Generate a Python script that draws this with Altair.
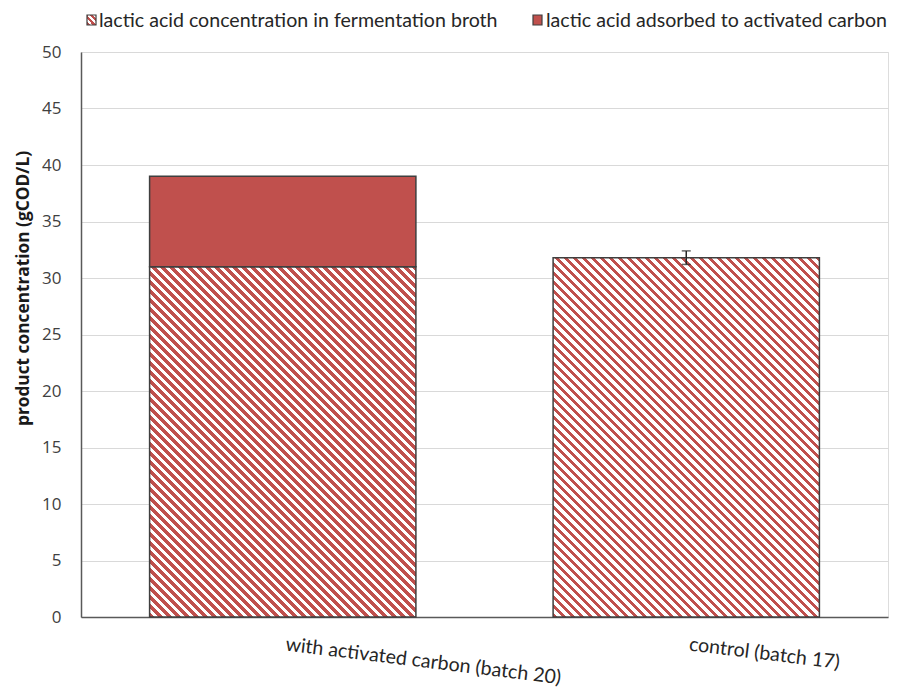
import altair as alt
import pandas as pd

# ---- data ----
categories = ["with activated carbon (batch 20)", "control (batch 17)"]
broth = [31.0, 31.8]          # lactic acid in fermentation broth (gCOD/L)
adsorbed = [8.0, 0.0]         # lactic acid adsorbed to activated carbon (gCOD/L)
broth_err = [None, 0.6]       # standard deviation of broth concentration
legend_labels = ["lactic acid concentration in fermentation broth",
                 "lactic acid adsorbed to activated carbon"]

df = pd.DataFrame({
    "cat": categories,
    "broth": broth,
    "adsorbed": adsorbed,
    "err": broth_err,
})
df["total"] = df["broth"] + df["adsorbed"]
df["lo"] = df["broth"] - df["err"]
df["hi"] = df["broth"] + df["err"]

# ---- layout ----
W, H = 807, 565
Y_MAX = 50
PAD_INNER, PAD_OUTER = 0.34, 0.17
RED = "#c0504d"
EDGE = "#3f3f3f"
FONT_NUM = "Open Sans"
FONT_TXT = "Lato"
TXT_SIZE = 19.6

step = W / (len(categories) - PAD_INNER + 2 * PAD_OUTER)
band = step * (1 - PAD_INNER)


def stripes(w, h, period=9.0, red_frac=0.52):
    """Linear gradient giving 45-degree diagonal hatching over a w x h box."""
    a = w / h
    s = (a + 1) / (a * a + 1)
    n = (w + h) / period
    stops = []
    k = 0
    while k < n:
        o0 = k / n
        o1 = min((k + red_frac) / n, 1.0)
        o2 = min((k + 1) / n, 1.0)
        stops += [alt.GradientStop(offset=o0, color=RED),
                  alt.GradientStop(offset=o1, color=RED),
                  alt.GradientStop(offset=o1, color="white"),
                  alt.GradientStop(offset=o2, color="white")]
        k += 1
    return alt.LinearGradient(gradient="linear", stops=stops,
                              x1=0, y1=1, x2=s * a, y2=1 - s)


x_enc = alt.X("cat:N", sort=categories,
              scale=alt.Scale(paddingInner=PAD_INNER, paddingOuter=PAD_OUTER),
              axis=alt.Axis(title=None, labelAngle=7, labelAlign="left",
                            labelBaseline="top", labelPadding=18, labelOffset=4,
                            labelFont=FONT_TXT, labelFontSize=TXT_SIZE,
                            labelColor="#262626", ticks=False,
                            domainColor="#595959", domainWidth=1.5,
                            labelLimit=400))
y_scale = alt.Scale(domain=[0, Y_MAX], nice=False)
y_axis = alt.Axis(title="product concentration (gCOD/L)",
                  values=list(range(0, 51, 5)), grid=True,
                  gridColor="#d9d9d9", gridWidth=1, ticks=False,
                  labelFont=FONT_NUM, labelFontSize=17, labelColor="#404040",
                  labelPadding=20, domainColor="#595959", domainWidth=1.5,
                  titleFont=FONT_NUM, titleFontSize=17.3, titleFontWeight="bold",
                  titleColor="#1a1a1a", titleAngle=270, titleAlign="center",
                  titleBaseline="middle", titleX=-58, titleY=236)

base = alt.Chart(df)

hatched_layers = []
for cat, val in zip(categories, broth):
    grad = stripes(band, val / Y_MAX * H)
    hatched_layers.append(
        base.transform_filter(alt.datum.cat == cat)
        .mark_bar(fill=grad, stroke=EDGE, strokeWidth=1.5)
        .encode(x=x_enc,
                y=alt.Y("broth:Q", scale=y_scale, axis=y_axis),
                y2=alt.Y2(datum=0))
    )

adsorbed_bar = (
    base.transform_filter(alt.datum.adsorbed > 0)
    .mark_bar(fill=RED, stroke=EDGE, strokeWidth=1.5)
    .encode(x=x_enc, y=alt.Y("broth:Q", scale=y_scale, axis=y_axis),
            y2="total:Q")
)

err_rule = (
    base.transform_filter("isValid(datum.err)")
    .mark_rule(color="#262626", strokeWidth=1.5)
    .encode(x=x_enc, y=alt.Y("lo:Q", scale=y_scale, axis=y_axis), y2="hi:Q")
)
err_lo = (
    base.transform_filter("isValid(datum.err)")
    .mark_tick(color="#262626", thickness=1.5, size=9, orient="horizontal")
    .encode(x=x_enc, y=alt.Y("lo:Q", scale=y_scale, axis=y_axis))
)
err_hi = (
    base.transform_filter("isValid(datum.err)")
    .mark_tick(color="#262626", thickness=1.5, size=9, orient="horizontal")
    .encode(x=x_enc, y=alt.Y("hi:Q", scale=y_scale, axis=y_axis))
)

# ---- legend drawn above the plot ----
leg_df = pd.DataFrame({"label": legend_labels})
leg = alt.Chart(leg_df)
sw1 = leg.transform_filter(alt.datum.label == legend_labels[0]).mark_rect(
    fill=stripes(10, 10, period=6.5, red_frac=0.55), stroke=EDGE, strokeWidth=1.2
).encode(x=alt.value(6), x2=alt.value(15), y=alt.value(-37), y2=alt.value(-27))
sw2 = leg.transform_filter(alt.datum.label == legend_labels[1]).mark_rect(
    fill=RED, stroke=EDGE, strokeWidth=1.2
).encode(x=alt.value(452), x2=alt.value(461), y=alt.value(-37), y2=alt.value(-27))
txt_style = dict(align="left", baseline="middle", font=FONT_TXT,
                 fontSize=TXT_SIZE, color="#262626")
t1 = leg.transform_filter(alt.datum.label == legend_labels[0]).mark_text(
    **txt_style).encode(x=alt.value(18), y=alt.value(-31), text="label:N")
t2 = leg.transform_filter(alt.datum.label == legend_labels[1]).mark_text(
    **txt_style).encode(x=alt.value(465), y=alt.value(-31), text="label:N")

chart = alt.layer(
    *hatched_layers, adsorbed_bar, err_rule, err_lo, err_hi,
    sw1, sw2, t1, t2
).properties(
    width=W, height=H,
    autosize=alt.AutoSizeParams(type="none"),
    padding={"left": 81, "top": 52, "right": 9, "bottom": 78},
).configure_view(
    stroke="#595959", strokeWidth=2
).configure(background="white")

chart.save("out.html", embed_options={"renderer": "svg", "actions": False})
